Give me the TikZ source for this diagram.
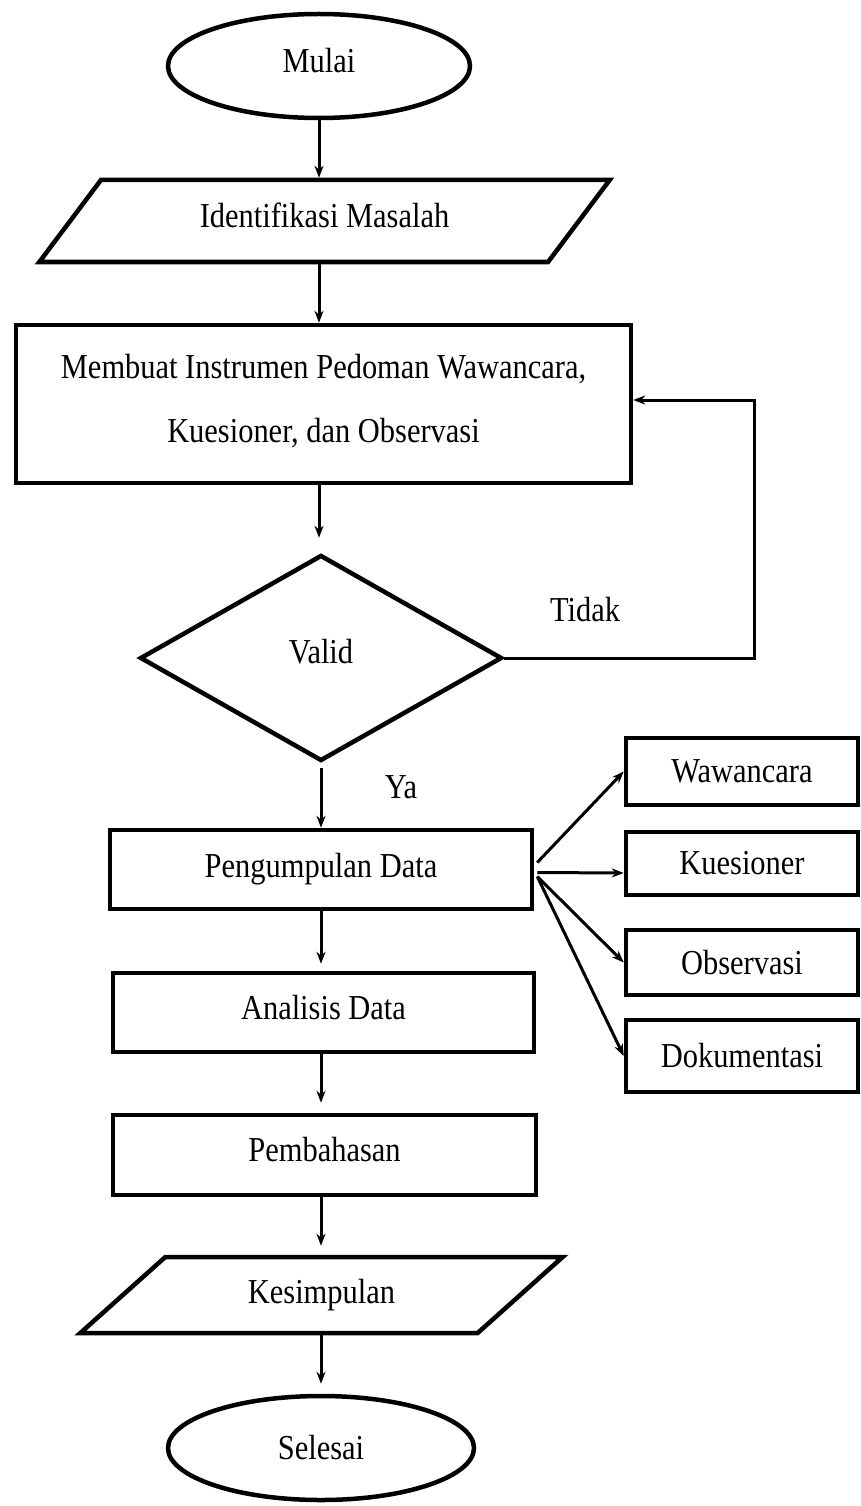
\documentclass[tikz,border=0pt]{standalone}
\usepackage{fontspec}
\setmainfont{Liberation Serif}[FakeStretch=0.87]
\usetikzlibrary{shapes.geometric,arrows.meta,calc}
\newcommand{\upt}[2]{\raisebox{#1}[\height][\depth]{#2}}
\begin{document}
\begin{tikzpicture}[x=1pt,y=-1pt,
  every node/.style={font=\fontsize{35}{64}\selectfont, inner sep=0pt},
  shp/.style={draw, line width=4.5pt},
  boxnode/.style={shp, rectangle},
  term/.style={shp, ellipse},
  io/.style={shp, trapezium, trapezium stretches=true},
  dec/.style={shp, diamond},
  arr/.style={line width=3pt, -{Stealth[length=12pt,width=9pt]}},
  lbl/.style={}]
\useasboundingbox (0,0) rectangle (860,1506);
\fill[white] (0,0) rectangle (860,1506);

\node[term, minimum width=302pt, minimum height=104pt] (mulai) at (319,66) {\upt{5pt}{Mulai}};
\node[io, trapezium left angle=36, trapezium right angle=144, minimum width=573pt, minimum height=82pt] (ident) at (324.5,221) {\upt{6pt}{Identifikasi Masalah}};
\node[boxnode, minimum width=615pt, minimum height=158pt] (membuat) at (323.5,404) {\upt{6pt}{\begin{tabular}{@{}c@{}}Membuat Instrumen Pedoman Wawancara,\\Kuesioner, dan Observasi\end{tabular}}};
\node[dec, minimum width=362pt, minimum height=206pt] (valid) at (321,658) {\upt{6pt}{Valid}};
\node[boxnode, minimum width=422pt, minimum height=79pt] (peng) at (321,869.5) {Pengumpulan Data};
\node[boxnode, minimum width=421pt, minimum height=79pt] (anal) at (323.5,1012.5) {\upt{5pt}{Analisis Data}};
\node[boxnode, minimum width=423pt, minimum height=80pt] (bahas) at (324.5,1155) {\upt{5pt}{Pembahasan}};
\node[io, trapezium left angle=38.4, trapezium right angle=141.6, minimum width=483pt, minimum height=76pt] (simpul) at (321.5,1295) {Kesimpulan};
\node[term, minimum width=306pt, minimum height=104pt] (selesai) at (321,1448) {Selesai};

\node[boxnode, minimum width=232pt, minimum height=67pt] (waw) at (742,771.5) {Wawancara};
\node[boxnode, minimum width=232pt, minimum height=63pt] (kue) at (742,863.5) {Kuesioner};
\node[boxnode, minimum width=232pt, minimum height=65pt] (obs) at (742,962.5) {Observasi};
\node[boxnode, minimum width=232pt, minimum height=72pt] (dok) at (742,1056) {Dokumentasi};

\node[lbl] (tidak) at (585,610) {Tidak};
\node[lbl] (ya) at (401,787) {Ya};

\coordinate (fb) at (754,400);

\draw[arr] (mulai.south) -- (mulai.south |- ident.north);
\draw[arr] (ident.south -| mulai.south) -- (mulai.south |- membuat.north);
\draw[arr, shorten >=15pt] (membuat.south -| mulai.south) -- (mulai.south |- valid.north);
\draw[arr] (valid.east) -| (fb) -- (fb -| membuat.east);
\draw[arr, shorten <=5pt] (valid.south) -- (valid.south |- peng.north);
\draw[arr, shorten >=7pt] (peng.south -| valid.south) -- (valid.south |- anal.north);
\draw[arr, shorten >=10pt] (anal.south -| valid.south) -- (valid.south |- bahas.north);
\draw[arr, shorten >=9pt] (bahas.south -| valid.south) -- (valid.south |- simpul.north);
\draw[arr, shorten >=10pt] (simpul.south -| valid.south) -- (valid.south |- selesai.north);

\draw[arr] ($(peng.east)+(3,-7)$) -- (waw.west);
\draw[arr] ($(peng.east)+(3,3)$) -- (kue.west |- 0,873);
\draw[arr] ($(peng.east)+(3,7)$) -- (obs.west);
\draw[arr] ($(peng.east)+(3,7)$) -- (dok.west);
\end{tikzpicture}
\end{document}
